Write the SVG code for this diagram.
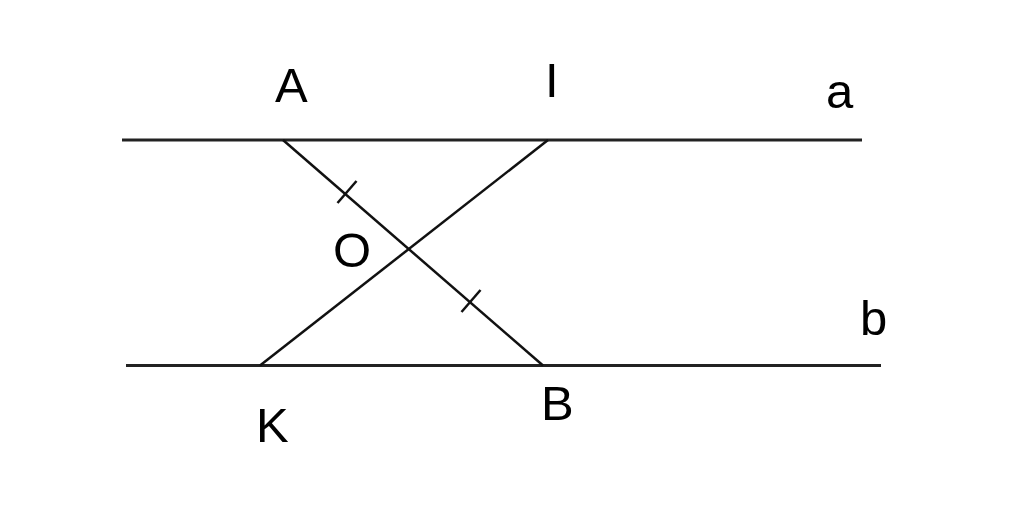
<svg xmlns="http://www.w3.org/2000/svg" width="1024" height="521" viewBox="0 0 1024 521">
<style>
.ln{stroke:#222;stroke-width:3;fill:none;stroke-linecap:butt}
.dg{stroke:#111;stroke-width:2.5;fill:none}
.lb{font-family:"Liberation Sans",Arial,sans-serif;font-size:49px;fill:#000}
</style>
<rect width="1024" height="521" fill="#fff"/>
<g id="connectors">
<line class="ln" x1="122" y1="140" x2="862" y2="140"/>
<line class="ln" x1="126" y1="365.5" x2="881" y2="365.5"/>
<line class="dg" x1="283" y1="140" x2="543" y2="365.5"/>
<line class="dg" x1="548" y1="140" x2="260" y2="365.5"/>
<line class="dg" x1="337.5" y1="203" x2="356.5" y2="181"/>
<line class="dg" x1="461.5" y1="312" x2="480.5" y2="290"/>
</g>
<g id="A"><text class="lb" x="275" y="102">A</text></g>
<g id="I"><text class="lb" x="545" y="97">I</text></g>
<g id="a"><text class="lb" x="826" y="108">a</text></g>
<g id="b"><text class="lb" x="860" y="335">b</text></g>
<g id="O"><text class="lb" x="333" y="267">O</text></g>
<g id="K"><text class="lb" x="256" y="442">K</text></g>
<g id="B"><text class="lb" x="541" y="420">B</text></g>
</svg>
